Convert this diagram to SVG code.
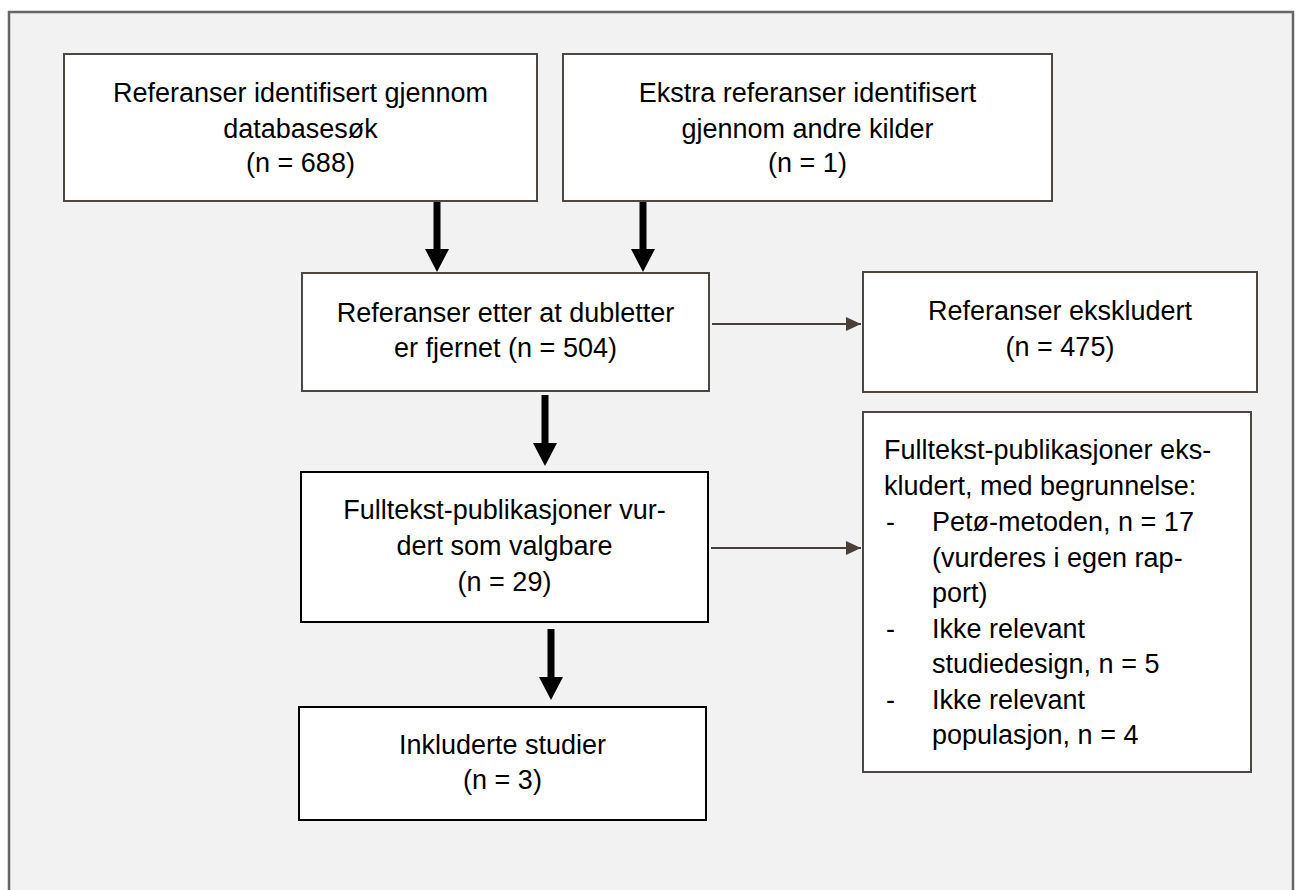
<svg xmlns="http://www.w3.org/2000/svg" width="1300" height="890" viewBox="0 0 1300 890">
<style>
  .box { fill: #ffffff; stroke: #4e4640; stroke-width: 2; }
  .boxk { fill: #ffffff; stroke: #000000; stroke-width: 2; }
  text { font-family: "Liberation Sans", Arial, sans-serif; font-size: 27px; fill: #000000; }
  .c { text-anchor: middle; }
  .thick { stroke: #000000; stroke-width: 7; fill: none; }
  .thin { stroke: #4a3f38; stroke-width: 2; fill: none; }
</style>
<defs>
  <marker id="thinhead" markerWidth="16" markerHeight="14" refX="15" refY="7" orient="auto" markerUnits="userSpaceOnUse">
    <path d="M0,0 L15,7 L0,14 Z" fill="#4a3f38"/>
  </marker>
</defs>
<rect x="0" y="0" width="1300" height="890" fill="#ffffff"/>
<rect x="9" y="12" width="1284" height="890" fill="#f2f2f2" stroke="#666666" stroke-width="2.5"/>

<g id="connectors">
  <line class="thick" x1="437" y1="201" x2="437" y2="250"/>
  <path d="M425,249 L449,249 L437,272 Z" fill="#000"/>
  <line class="thick" x1="643" y1="201" x2="643" y2="250"/>
  <path d="M631,249 L655,249 L643,272 Z" fill="#000"/>
  <line class="thick" x1="545" y1="395" x2="545" y2="444"/>
  <path d="M533,443 L557,443 L545,466 Z" fill="#000"/>
  <line class="thick" x1="551" y1="629" x2="551" y2="678"/>
  <path d="M539,677 L563,677 L551,700 Z" fill="#000"/>
  <line class="thin" x1="712" y1="324" x2="861" y2="324" marker-end="url(#thinhead)"/>
  <line class="thin" x1="711" y1="548" x2="861" y2="548" marker-end="url(#thinhead)"/>
</g>

<g id="node-db">
  <rect class="box" x="64" y="54" width="473" height="147"/>
  <text class="c" x="300.5" y="102">Referanser identifisert gjennom</text>
  <text class="c" x="300.5" y="138">databasesøk</text>
  <text class="c" x="300.5" y="172">(n = 688)</text>
</g>
<g id="node-other">
  <rect class="box" x="563" y="54" width="489" height="147"/>
  <text class="c" x="807.5" y="102">Ekstra referanser identifisert</text>
  <text class="c" x="807.5" y="138">gjennom andre kilder</text>
  <text class="c" x="807.5" y="172">(n = 1)</text>
</g>
<g id="node-dedup">
  <rect class="box" x="302" y="273" width="407" height="118"/>
  <text class="c" x="505.5" y="322">Referanser etter at dubletter</text>
  <text class="c" x="505.5" y="357">er fjernet (n = 504)</text>
</g>
<g id="node-excl">
  <rect class="box" x="863" y="272" width="394" height="120"/>
  <text class="c" x="1060" y="320">Referanser ekskludert</text>
  <text class="c" x="1060" y="356">(n = 475)</text>
</g>
<g id="node-fulltext">
  <rect class="boxk" x="301" y="472" width="407" height="150"/>
  <text class="c" x="504.5" y="519">Fulltekst-publikasjoner vur-</text>
  <text class="c" x="504.5" y="555">dert som valgbare</text>
  <text class="c" x="504.5" y="591">(n = 29)</text>
</g>
<g id="node-ftexcl">
  <rect class="box" x="863" y="412" width="388" height="360"/>
  <text x="884" y="459">Fulltekst-publikasjoner eks-</text>
  <text x="884" y="495">kludert, med begrunnelse:</text>
  <text x="886" y="531">-</text>
  <text x="932" y="531">Petø-metoden, n = 17</text>
  <text x="932" y="567">(vurderes i egen rap-</text>
  <text x="932" y="602">port)</text>
  <text x="886" y="638">-</text>
  <text x="932" y="638">Ikke relevant</text>
  <text x="932" y="673">studiedesign, n = 5</text>
  <text x="886" y="709">-</text>
  <text x="932" y="709">Ikke relevant</text>
  <text x="932" y="744">populasjon, n = 4</text>
</g>
<g id="node-incl">
  <rect class="boxk" x="299" y="707" width="407" height="113"/>
  <text class="c" x="502.5" y="754">Inkluderte studier</text>
  <text class="c" x="502.5" y="789">(n = 3)</text>
</g>
</svg>
